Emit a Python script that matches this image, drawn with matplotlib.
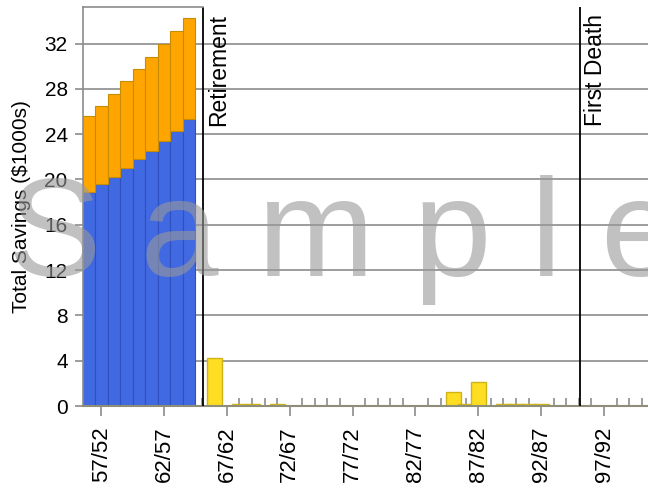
import matplotlib
matplotlib.use("Agg")
import matplotlib.pyplot as plt
from matplotlib.transforms import blended_transform_factory

plt.rcParams["font.family"] = ["Liberation Sans", "DejaVu Sans"]

# Pre-retirement savings, stacked by account ($1000s)
work_ages = [56, 57, 58, 59, 60, 61, 62, 63, 64]
savings_base = [18.85, 19.56, 20.23, 20.97, 21.79, 22.53, 23.41, 24.29, 25.32]
savings_total = [25.61, 26.53, 27.53, 28.65, 29.73, 30.77, 31.94, 33.09, 34.29]
savings_extra = [t - b for t, b in zip(savings_total, savings_base)]

# Post-retirement remaining balances ($1000s)
retired_ages = [66, 68, 69, 71, 85, 86, 87, 89, 90, 91, 92]
retired_savings = [4.25, 0.2, 0.2, 0.2, 1.25, 0.2, 2.15, 0.2, 0.2, 0.2, 0.2]

# Life events
event_ages = [65.1, 95.1]
event_labels = ["Retirement", "First Death"]

# Tick labels (own age / spouse age)
major_ages = [57, 62, 67, 72, 77, 82, 87, 92, 97]
major_labels = ["57/52", "62/57", "67/62", "72/67", "77/72", "82/77", "87/82", "92/87", "97/92"]
minor_ages = list(range(56, 101))
y_ticks = [0, 4, 8, 12, 16, 20, 24, 28, 32]

fig = plt.figure(figsize=(6.48, 4.94), dpi=100)
ax = fig.add_axes([83 / 648, 1 - 406 / 494, 1 - 83 / 648, (406 - 7.3) / 494])

grey = "#8c8c8c"
ax.set_axisbelow(True)
ax.yaxis.grid(True, color=grey, linewidth=1.2)

ax.bar(work_ages, savings_base, width=1.0, color="#4169E1",
       edgecolor="#3050c0", linewidth=0.8, zorder=2)
ax.bar(work_ages, savings_extra, bottom=savings_base, width=1.0, color="#FFA500",
       edgecolor="#c88c00", linewidth=0.8, zorder=2)
ax.bar(retired_ages, retired_savings, width=1.2, color="#FFDD22",
       edgecolor="#cdb419", linewidth=1.0, zorder=2)

tr = blended_transform_factory(ax.transData, ax.transAxes)
for xv, lab in zip(event_ages, event_labels):
    ax.axvline(xv, color="black", linewidth=1.3, zorder=3)
    ax.annotate(lab, xy=(xv, 1.0), xycoords=tr, xytext=(3, -5),
                textcoords="offset points", rotation=90, ha="left", va="top",
                fontsize=16.5, color="black", zorder=4)

# short top rule over the pre-retirement period
ax.plot([55.55, event_ages[0]], [1.0, 1.0], transform=tr, color=grey,
        linewidth=1.2, clip_on=False, zorder=3)

ax.set_xlim(55.55, 100.5)
ax.set_ylim(0, 35.2)
ax.set_yticks(y_ticks)
ax.set_yticklabels([str(v) for v in y_ticks], fontsize=15)
ax.set_xticks(major_ages)
ax.set_xticklabels(major_labels, rotation=90, fontsize=16)
ax.set_xticks(minor_ages, minor=True)

ax.tick_params(axis="y", which="major", length=6, width=1.2, color=grey, pad=5)
ax.tick_params(axis="x", which="major", direction="out", length=7, width=1.2,
               color=grey, pad=8)
ax.tick_params(axis="x", which="minor", direction="in", length=5.5, width=1.2,
               color=grey)

for side in ["top", "right"]:
    ax.spines[side].set_visible(False)
ax.spines["left"].set_color(grey)
ax.spines["left"].set_linewidth(1.2)
ax.spines["bottom"].set_color("#8e8e78")
ax.spines["bottom"].set_linewidth(1.5)

ax.set_ylabel("Total Savings ($1000s)", fontsize=15, labelpad=10)

# watermark
fig.text(8 / 648, 1 - 276 / 494, "S a m p l e", fontsize=101, color="#999999",
         alpha=0.6, ha="left", va="baseline", zorder=10)

fig.savefig("out.png", dpi=100)
